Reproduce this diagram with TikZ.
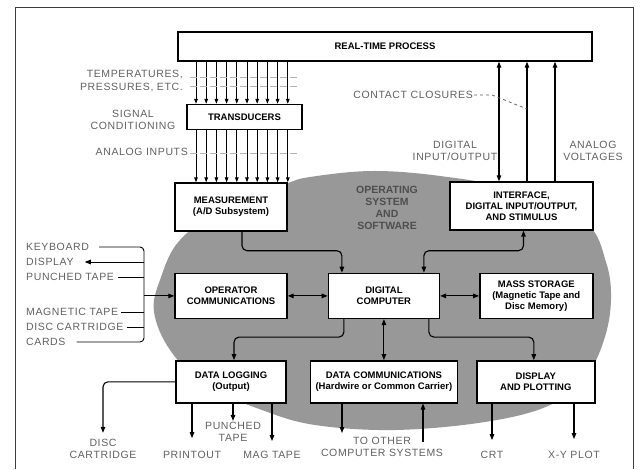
\documentclass[tikz,border=0pt]{standalone}
\usepackage{fontspec}
\setmainfont{Liberation Sans}
\newfontfamily\lblface[LetterSpace=6]{Liberation Sans}
\usepackage{tikz}
\usetikzlibrary{arrows.meta,positioning,calc}
\definecolor{blobgray} {RGB}{152,152,152}
\definecolor{lblgray}  {RGB}{96,96,96}
\definecolor{osgray}   {RGB}{78,78,78}
\definecolor{framegray}{RGB}{60,60,60}
\newcommand\boxfont{\fontsize{9.5}{11}\selectfont\bfseries}
\newcommand\lblfont{\lblface\fontsize{10.5}{12.5}\selectfont}
\tikzset{
  sysbox/.style={draw, line width=1.4pt, fill=white, align=center,
                 minimum width=#1, minimum height=45pt,
                 font=\boxfont, inner sep=2pt},
  sysbox/.default=112pt,
  lowbox/.style={sysbox=#1, minimum height=42pt},
  lowbox/.default=112pt,
  lbl/.style={text=lblgray, font=\lblfont, align=center, inner sep=1pt},
  oslbl/.style={text=osgray, font=\fontsize{10.5}{12}\selectfont\bfseries,
                align=center},
  arr/.style={-{Triangle[length=6pt,width=4.5pt]}, line width=1.1pt},
  darr/.style={{Triangle[length=6pt,width=4.5pt]}-{Triangle[length=6pt,width=4.5pt]},
               line width=1.1pt},
  busarr/.style={-{Triangle[length=5pt,width=3.6pt]}, line width=1pt},
  wire/.style={line width=0.9pt, rounded corners=4pt},
  crosswire/.style={black!30, line width=0.6pt, dash pattern=on 7pt off 3pt},
}

\begin{document}
\begin{tikzpicture}[x=1pt, y=-1pt]
  \useasboundingbox (0,0) rectangle (643,469);
  \draw[framegray, line width=0.9pt] (15,469) -- (15,7) -- (633,7) -- (633,469);
  % operating system area
  \fill[blobgray] plot[smooth cycle, tension=0.6] coordinates {
    (310,177) (372,171) (440,176) (515,190) (585,222) (606,262) (611,300)
    (604,340) (585,378) (548,406) (485,422) (395,430) (315,425) (262,410)
    (205,385) (170,350) (154,312) (160,280) (180,240) (230,203) (285,184)};

  \node[sysbox=414pt, minimum height=29pt] (proc) at (385,46.5) {REAL-TIME PROCESS};
  \node[sysbox=115pt, minimum height=25pt] (trans) at (244.5,117) {TRANSDUCERS};
  \node[sysbox, minimum height=48pt] (meas) at (231,207) {MEASUREMENT\\(A/D Subsystem)};
  \node[sysbox=143pt, minimum height=48pt] (iface) at (521.5,206)
        {INTERFACE,\\DIGITAL INPUT/OUTPUT,\\AND STIMULUS};
  \node[sysbox, below=41pt of meas] (opcom) {OPERATOR\\COMMUNICATIONS};
  \node[sysbox=111pt, right=40pt of opcom] (comp) {DIGITAL\\COMPUTER};
  \node[sysbox=113pt, right=39pt of comp] (mass)
        {MASS STORAGE\\(Magnetic Tape and\\Disc Memory)};
  \node[lowbox=110pt, below=41pt of opcom] (dlog) {DATA LOGGING\\(Output)};
  \node[lowbox=147pt, right=23pt of dlog] (dcom)
        {DATA COMMUNICATIONS\\(Hardwire or Common Carrier)};
  \node[lowbox=118pt, right=18pt of dcom] (disp) {DISPLAY\\AND PLOTTING};
  \node[oslbl] (os) at (387,208) {OPERATING\\SYSTEM\\AND\\SOFTWARE};

  \node[lbl, anchor=east, align=right] (tp) at (184,81) {TEMPERATURES,\\PRESSURES, ETC.};
  \node[lbl] (sc) at (133,120) {SIGNAL\\CONDITIONING};
  \node[lbl, anchor=east] (ai) at (189,152) {ANALOG INPUTS};
  \node[lbl, anchor=east] (ccl) at (474,95) {CONTACT CLOSURES};
  \node[lbl] (dio) at (455,151) {DIGITAL\\INPUT/OUTPUT};
  \node[lbl] (av) at (593,151) {ANALOG\\VOLTAGES};

  \node[lbl, anchor=west] (kbd)    at (25,247) {KEYBOARD};
  \node[lbl, anchor=west] (dspl)   at (25,262) {DISPLAY};
  \node[lbl, anchor=west] (ptape)  at (25,277) {PUNCHED TAPE};
  \node[lbl, anchor=west] (mtape)  at (25,312) {MAGNETIC TAPE};
  \node[lbl, anchor=west] (dcartl) at (25,327) {DISC CARTRIDGE};
  \node[lbl, anchor=west] (cards)  at (25,342) {CARDS};

  \node[lbl] (dcart2) at (103,449) {DISC\\CARTRIDGE};
  \node[lbl] (prt)    at (192,455) {PRINTOUT};
  \node[lbl] (pt2)    at (233,432) {PUNCHED\\TAPE};
  \node[lbl] (mag2)   at (272,455) {MAG TAPE};
  \node[lbl] (other)  at (382,447) {TO OTHER\\COMPUTER SYSTEMS};
  \node[lbl] (crt)    at (492,455) {CRT};
  \node[lbl] (xy)     at (574,455) {X-Y PLOT};

  % sensor lines
  \foreach \i in {0,...,9}{
    \pgfmathsetmacro\bx{196+10.2*\i}
    \draw[busarr] (\bx,0 |- proc.south) -- (\bx,0 |- trans.north);
    \draw[busarr] (\bx,0 |- trans.south) -- (\bx,0 |- meas.north);
  }
  \draw[crosswire] (190,77) -- (298,77); \draw[crosswire] (190,86) -- (298,86);
  \draw[crosswire] (190,153) -- (298,153);

  \draw[darr] (499,0 |- proc.south) -- (499,0 |- iface.north);
  \draw[arr] (527,0 |- iface.north) -- (527,0 |- proc.south);
  \draw[arr] (555,0 |- iface.north) -- (555,0 |- proc.south);
  \coordinate (cc) at (527,109);
  \draw[lblgray, line width=0.8pt, dashed] (ccl.east) -- ++(18,0) -- (cc);

  \coordinate (bus) at (144,0 |- opcom.west);
  \draw[wire] ([xshift=9pt]kbd.east) -| (bus);
  \draw[wire] ([xshift=10pt]cards.east) -| (bus);
  \draw[arr, line width=0.9pt] (bus |- dspl.east) -- ([xshift=10pt]dspl.east);
  \draw[wire] ([xshift=3pt]ptape.east) -- (bus |- ptape.east);
  \draw[wire] ([xshift=2pt]mtape.east) -- (bus |- mtape.east);
  \draw[wire] ([xshift=2pt]dcartl.east) -- (bus |- dcartl.east);
  \draw[arr, line width=0.9pt] (bus) -- (opcom.west);

  \draw[arr, rounded corners=5pt] ([xshift=11pt]meas.south) -- ++(0,19) -| ([xshift=-42pt]comp.north);
  \draw[darr, rounded corners=5pt] ([xshift=2pt]iface.south) -- ++(0,20) -| ([xshift=40pt]comp.north);
  \draw[darr](opcom)--(comp);\draw[darr](comp)--(mass);\draw[darr](comp)--(dcom);
  \draw[arr, rounded corners=5pt] ([xshift=-40pt]comp.south) -- ++(0,18) -| ([xshift=3pt]dlog.north);
  \draw[arr, rounded corners=5pt] ([xshift=45pt]comp.south) -- ++(0,18) -| ([xshift=-2pt]disp.north);

  \draw[arr, rounded corners=5pt, shorten >=5pt] (dlog.west) -| (dcart2.north);
  \draw[arr, shorten >=12pt] (prt.north |- dlog.south) -- (prt.north);
  \draw[arr] (pt2.north |- dlog.south) -- (pt2.north);
  \draw[arr, shorten >=9pt] (mag2.north |- dlog.south) -- (mag2.north);
  \coordinate (odown) at (342,433); \coordinate (oup) at (423,442);
  \draw[arr] (odown |- dcom.south) -- (odown);
  \draw[arr] (oup) -- (oup |- dcom.south);
  \draw[arr, shorten >=10pt] (crt.north |- disp.south) -- (crt.north);
  \draw[arr, shorten >=11pt] (xy.north |- disp.south) -- (xy.north);
\end{tikzpicture}
\end{document}
